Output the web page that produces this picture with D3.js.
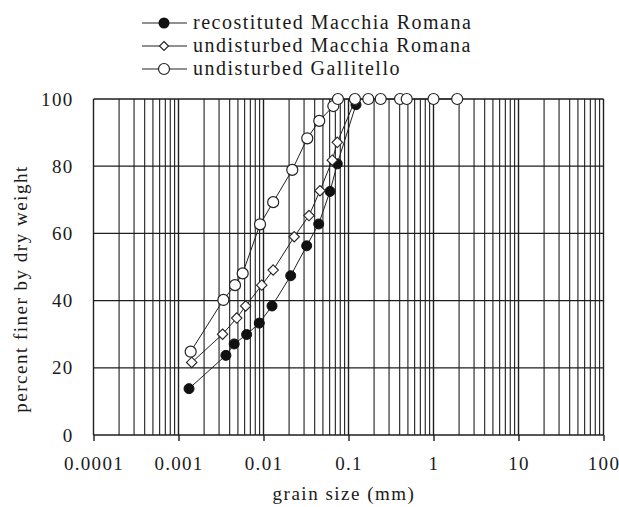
<!DOCTYPE html>
<html>
<head>
<meta charset="utf-8">
<script src="https://cdn.jsdelivr.net/npm/d3@7"></script>
<style>
  html, body { margin: 0; padding: 0; background: #fff; }
  svg text { font-family: "Liberation Serif", "Times New Roman", serif; fill: #1a1a1a; }
</style>
</head>
<body>
<svg id="chart" width="619" height="507"></svg>
<script>
// Grain size distribution curves (percent finer vs grain size, log scale)
const recostSize   = [0.00133, 0.00361, 0.00452, 0.00633, 0.00892, 0.0126, 0.0209, 0.0322, 0.0446, 0.0606, 0.0738, 0.1225];
const recostFiner  = [13.8, 23.7, 27.1, 29.9, 33.3, 38.4, 47.4, 56.3, 62.8, 72.5, 80.7, 98.3];

const undistMRSize  = [0.00143, 0.0033, 0.00484, 0.00617, 0.00953, 0.0130, 0.0230, 0.0343, 0.0462, 0.0645, 0.0738, 0.119];
const undistMRFiner = [21.6, 30.0, 34.8, 38.4, 44.6, 49.1, 59.0, 65.3, 72.7, 81.8, 87.1, 99.5];

const gallitelloSize  = [0.00139, 0.00337, 0.00462, 0.00569, 0.0091, 0.0130, 0.0218, 0.0327, 0.0453, 0.0663, 0.0751, 0.119, 0.171, 0.239, 0.404, 0.484, 1.0, 1.9];
const gallitelloFiner = [24.8, 40.2, 44.6, 48.1, 62.7, 69.3, 78.9, 88.3, 93.5, 97.9, 100, 100, 100, 100, 100, 100, 100, 100];

const seriesNames = ["recostituted Macchia Romana", "undisturbed Macchia Romana", "undisturbed Gallitello"];
const xTickValues = [0.0001, 0.001, 0.01, 0.1, 1, 10, 100];
const xTickLabels = ["0.0001", "0.001", "0.01", "0.1", "1", "10", "100"];
const yTickValues = [0, 20, 40, 60, 80, 100];

const svg = d3.select("#chart");
const plotLeft = 93.5, plotRight = 603.5, plotTop = 99, plotBottom = 435;

const x = d3.scaleLog().domain([0.0001, 100]).range([plotLeft, plotRight]);
const y = d3.scaleLinear().domain([0, 100]).range([plotBottom, plotTop]);

const grid = svg.append("g").attr("stroke", "#1e1e1e").attr("fill", "none");

// vertical log grid: decades and 2..9 within each decade
const minor = [];
for (let k = -4; k < 2; k++) for (let m = 2; m <= 9; m++) minor.push(m * Math.pow(10, k));
grid.selectAll("line.minor").data(minor).join("line")
  .attr("class", "minor")
  .attr("x1", d => x(d)).attr("x2", d => x(d))
  .attr("y1", plotTop).attr("y2", plotBottom)
  .attr("stroke-width", 1.1);
grid.selectAll("line.decade").data(xTickValues).join("line")
  .attr("class", "decade")
  .attr("x1", d => x(d)).attr("x2", d => x(d))
  .attr("y1", plotTop).attr("y2", plotBottom)
  .attr("stroke-width", 1.4);

// horizontal grid
grid.selectAll("line.h").data(yTickValues).join("line")
  .attr("class", "h")
  .attr("x1", plotLeft).attr("x2", plotRight)
  .attr("y1", d => y(d)).attr("y2", d => y(d))
  .attr("stroke-width", 1.3);

// bottom axis with decade ticks
const xAxis = d3.axisBottom(x)
  .tickValues(xTickValues)
  .tickFormat((d, i) => xTickLabels[i])
  .tickSize(6)
  .tickPadding(16);
const gx = svg.append("g").attr("transform", `translate(0,${plotBottom})`).call(xAxis);
gx.select(".domain").remove();
gx.selectAll(".tick line").attr("stroke", "#1e1e1e").attr("stroke-width", 1.4);
gx.selectAll(".tick text")
  .attr("font-size", 19).attr("letter-spacing", 1.3)
  .style("font-family", "'Liberation Serif', serif").attr("fill", "#1a1a1a");

// left axis labels
const yAxis = d3.axisLeft(y).tickValues(yTickValues).tickSize(0).tickPadding(20);
const gy = svg.append("g").attr("transform", `translate(${plotLeft},0)`).call(yAxis);
gy.select(".domain").remove();
gy.selectAll(".tick text")
  .attr("font-size", 19).attr("letter-spacing", 1.3)
  .style("font-family", "'Liberation Serif', serif").attr("fill", "#1a1a1a");

// axis titles
svg.append("text")
  .attr("x", 344).attr("y", 500)
  .attr("text-anchor", "middle")
  .attr("font-size", 19).attr("letter-spacing", 1.5)
  .text("grain size (mm)");
svg.append("text")
  .attr("transform", "translate(27,289) rotate(-90)")
  .attr("text-anchor", "middle")
  .attr("font-size", 19).attr("letter-spacing", 1.5)
  .text("percent finer by dry weight");

// series
const line = d3.line().x(d => x(d[0])).y(d => y(d[1]));
const zip = (a, b) => a.map((v, i) => [v, b[i]]);
const recost = zip(recostSize, recostFiner);
const undistMR = zip(undistMRSize, undistMRFiner);
const gallitello = zip(gallitelloSize, gallitelloFiner);

const plot = svg.append("g");
[recost, undistMR, gallitello].forEach(s => {
  plot.append("path").datum(s).attr("d", line)
    .attr("fill", "none").attr("stroke", "#222").attr("stroke-width", 1);
});

const diamond = (cx, cy, r) => `M${cx},${cy - r}L${cx + r},${cy}L${cx},${cy + r}L${cx - r},${cy}Z`;

plot.selectAll("circle.rec").data(recost).join("circle")
  .attr("class", "rec")
  .attr("cx", d => x(d[0])).attr("cy", d => y(d[1])).attr("r", 5)
  .attr("fill", "#111").attr("stroke", "#111").attr("stroke-width", 1);

plot.selectAll("path.umr").data(undistMR).join("path")
  .attr("class", "umr")
  .attr("d", d => diamond(x(d[0]), y(d[1]), 5.2))
  .attr("fill", "#fff").attr("stroke", "#222").attr("stroke-width", 1.1);

plot.selectAll("circle.gal").data(gallitello).join("circle")
  .attr("class", "gal")
  .attr("cx", d => x(d[0])).attr("cy", d => y(d[1])).attr("r", 5.5)
  .attr("fill", "#fff").attr("stroke", "#222").attr("stroke-width", 1.2);

// legend
const legend = svg.append("g");
const rowsY = [23, 46, 69];
seriesNames.forEach((name, i) => {
  const g = legend.append("g").attr("transform", `translate(0,${rowsY[i]})`);
  g.append("line").attr("x1", 142).attr("x2", 187).attr("y1", 0).attr("y2", 0)
    .attr("stroke", "#222").attr("stroke-width", 1.2);
  if (i === 0) {
    g.append("circle").attr("cx", 164).attr("cy", 0).attr("r", 5.5).attr("fill", "#111");
  } else if (i === 1) {
    g.append("path").attr("d", diamond(164, 0, 4.5))
      .attr("fill", "#fff").attr("stroke", "#222").attr("stroke-width", 1.1);
  } else {
    g.append("circle").attr("cx", 164).attr("cy", 0).attr("r", 5.5)
      .attr("fill", "#fff").attr("stroke", "#222").attr("stroke-width", 1.2);
  }
  g.append("text").attr("x", 193).attr("y", 0).attr("dy", "0.32em")
    .attr("font-size", 20).attr("letter-spacing", 1.5)
    .text(name);
});
</script>
</body>
</html>
